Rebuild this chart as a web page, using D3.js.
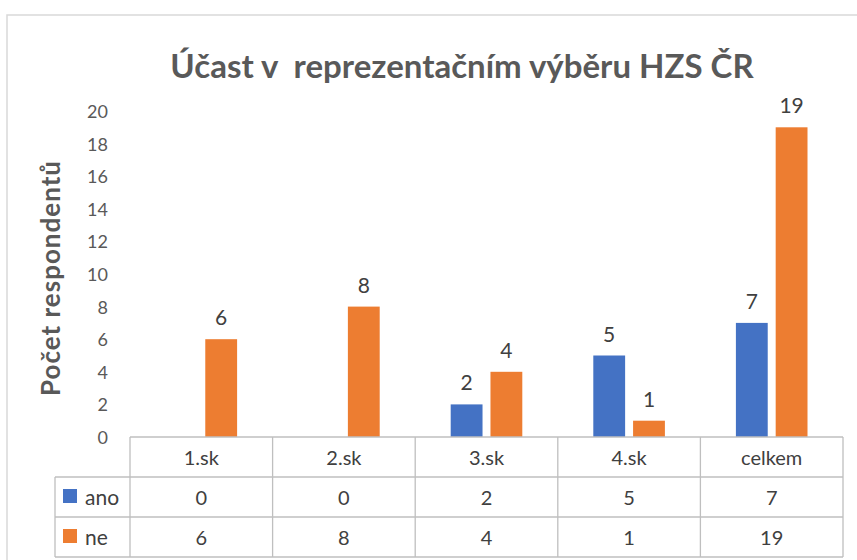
<!DOCTYPE html>
<html>
<head>
<meta charset="utf-8">
<script src="https://cdn.jsdelivr.net/npm/d3@7"></script>
<style>
  body { margin: 0; background: #fff; }
  svg { font-family: Lato, "Open Sans", sans-serif; }
</style>
</head>
<body>
<svg width="857" height="560"></svg>
<script>
// data
const categories = ['1.sk', '2.sk', '3.sk', '4.sk', 'celkem'];
const seriesNames = ['ano', 'ne'];
const ano = [0, 0, 2, 5, 7];
const ne = [6, 8, 4, 1, 19];
const yTicks = [0, 2, 4, 6, 8, 10, 12, 14, 16, 18, 20];
const colors = { ano: '#4472C4', ne: '#ED7D31' };

const series = { ano: ano, ne: ne };
const data = categories.map((c, i) => ({ cat: c, ano: ano[i], ne: ne[i] }));

const svg = d3.select('svg');

// outer chart frame
svg.append('rect')
  .attr('x', 7).attr('y', 15)
  .attr('width', 880).attr('height', 580)
  .attr('fill', 'none')
  .attr('stroke', '#d9d9d9')
  .attr('stroke-width', 1.5);

const plotLeft = 130, plotRight = 843;
const plotTop = 111, plotBottom = 437;
const rowH = 40;

const x = d3.scaleBand().domain(categories).range([plotLeft, plotRight]);
const xInner = d3.scaleBand().domain(seriesNames)
  .range([35.5, x.bandwidth() - 35.5])
  .paddingInner(0.2);
const y = d3.scaleLinear().domain([0, 20]).range([plotBottom, plotTop]);

// title
svg.append('text')
  .attr('x', 462).attr('y', 78)
  .attr('text-anchor', 'middle')
  .attr('font-size', 33).attr('font-weight', 'bold')
  .attr('fill', '#595959')
  .attr('xml:space', 'preserve')
  .text('Účast v  reprezentačním výběru HZS ČR');

// y axis title
svg.append('text')
  .attr('transform', 'translate(60,278) rotate(-90)')
  .attr('text-anchor', 'middle')
  .attr('font-size', 26).attr('font-weight', 'bold')
  .attr('letter-spacing', 1)
  .attr('fill', '#595959')
  .text('Počet respondentů');

// y axis labels
const yAxis = d3.axisLeft(y).tickValues(yTicks).tickSize(0).tickPadding(0);
const gy = svg.append('g').attr('transform', 'translate(108,0)').call(yAxis);
gy.select('.domain').remove();
gy.selectAll('text')
  .attr('font-family', 'Lato, "Open Sans", sans-serif')
  .attr('font-size', 18)
  .attr('fill', '#595959')
  .attr('dy', '0.36em');

// bars
const groups = svg.append('g').selectAll('g')
  .data(data).join('g')
  .attr('transform', d => `translate(${x(d.cat)},0)`);

groups.selectAll('rect')
  .data(d => seriesNames.map(s => ({ s: s, v: d[s] })))
  .join('rect')
  .attr('x', d => xInner(d.s))
  .attr('width', xInner.bandwidth())
  .attr('y', d => y(d.v))
  .attr('height', d => y(0) - y(d.v))
  .attr('fill', d => colors[d.s]);

// value labels (none for zero values)
groups.selectAll('text')
  .data(d => seriesNames.map(s => ({ s: s, v: d[s] })).filter(e => e.v > 0))
  .join('text')
  .attr('x', d => xInner(d.s) + xInner.bandwidth() / 2)
  .attr('y', d => y(d.v) - 14)
  .attr('text-anchor', 'middle')
  .attr('font-size', 21)
  .attr('fill', '#404040')
  .text(d => d.v);

// data table
const lineColor = '#bfbfbf';
const table = svg.append('g').attr('stroke', lineColor).attr('stroke-width', 1.3);
// horizontal lines
table.append('line').attr('x1', plotLeft).attr('x2', plotRight).attr('y1', plotBottom).attr('y2', plotBottom);
[1, 2, 3].forEach(r => {
  table.append('line')
    .attr('x1', 55).attr('x2', plotRight)
    .attr('y1', plotBottom + r * rowH).attr('y2', plotBottom + r * rowH);
});
// vertical lines
categories.forEach(c => {
  table.append('line').attr('x1', x(c)).attr('x2', x(c))
    .attr('y1', plotBottom).attr('y2', plotBottom + 3 * rowH);
});
table.append('line').attr('x1', plotRight).attr('x2', plotRight)
  .attr('y1', plotBottom).attr('y2', plotBottom + 3 * rowH);
table.append('line').attr('x1', 55).attr('x2', 55)
  .attr('y1', plotBottom + rowH).attr('y2', plotBottom + 3 * rowH);

const cellText = svg.append('g')
  .attr('font-size', 20).attr('fill', '#404040').attr('text-anchor', 'middle');

categories.forEach(c => {
  cellText.append('text')
    .attr('x', x(c) + x.bandwidth() / 2).attr('y', plotBottom + 28)
    .text(c);
});

seriesNames.forEach((s, r) => {
  const rowTop = plotBottom + (r + 1) * rowH;
  svg.append('rect')
    .attr('x', 63).attr('y', rowTop + 12)
    .attr('width', 14).attr('height', 14)
    .attr('fill', colors[s]);
  svg.append('text')
    .attr('x', 85).attr('y', rowTop + 28)
    .attr('font-size', 21).attr('fill', '#404040')
    .text(s);
  categories.forEach((c, i) => {
    cellText.append('text')
      .attr('x', x(c) + x.bandwidth() / 2).attr('y', rowTop + 28)
      .text(series[s][i]);
  });
});
</script>
</body>
</html>
